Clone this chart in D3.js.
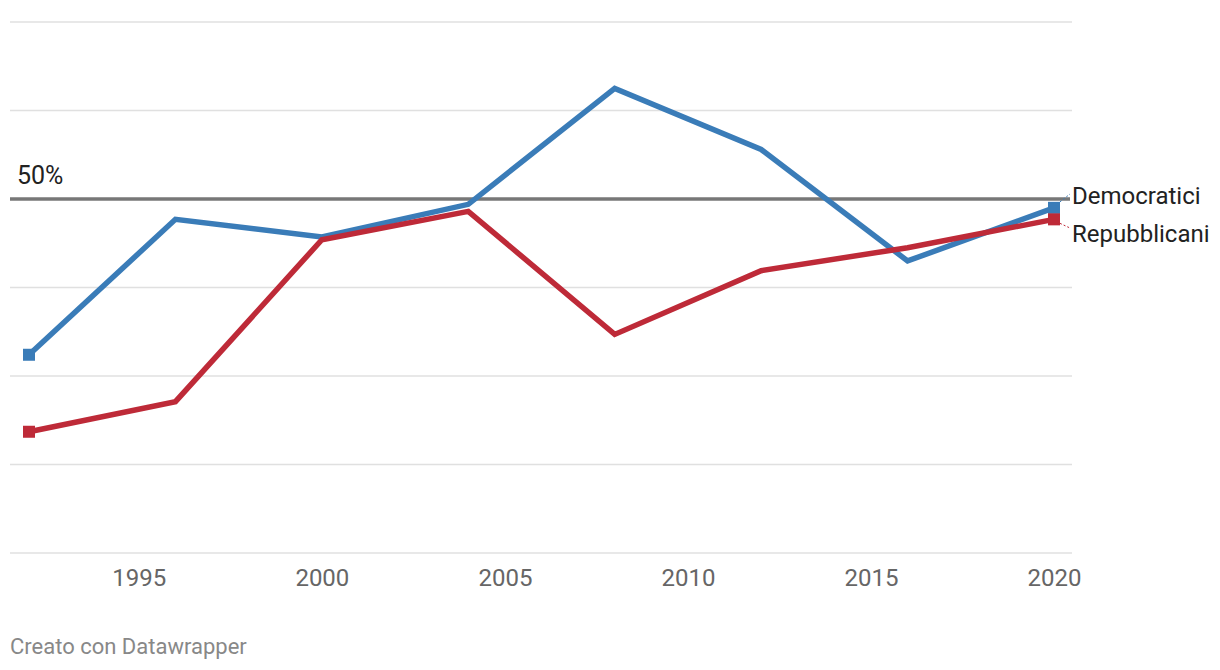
<!DOCTYPE html>
<html lang="it">
<head>
  <meta charset="utf-8" />
  <title>Democratici e Repubblicani</title>
  <style>
    body { margin: 0; background: #fff; font-family: Roboto, "Noto Sans", sans-serif; }
    svg text { font-family: Roboto, "Noto Sans", sans-serif; }
  </style>
  <script src="https://d3js.org/d3.v7.min.js"></script>
</head>
<body>
<script>
// data (percent)
const years = [1992, 1996, 2000, 2004, 2008, 2012, 2016, 2020];
const democratici  = [32.4, 47.7, 45.7, 49.4, 62.5, 55.6, 43.0, 49.0];
const repubblicani = [23.7, 27.1, 45.4, 48.6, 34.7, 41.9, 44.5, 47.7];
const xTicks = [1995, 2000, 2005, 2010, 2015, 2020];
const gridValues = [10, 20, 30, 40, 60, 70];
const seriesNames = ["Democratici", "Repubblicani"];

const W = 1220, H = 670;
const svg = d3.select("body").append("svg")
  .attr("width", W).attr("height", H);

// scales
const x = d3.scaleLinear().domain([1992, 2020]).range([29, 1054]);
const y = d3.scaleLinear().domain([10, 70]).range([553, 22]);

// gridlines
svg.append("g").selectAll("line")
  .data(gridValues)
  .join("line")
    .attr("x1", 10).attr("x2", 1072)
    .attr("y1", d => y(d)).attr("y2", d => y(d))
    .attr("stroke", "#e0e0e0").attr("stroke-width", 1.5);

// 50% reference line
svg.append("line")
  .attr("x1", 10).attr("x2", 1070)
  .attr("y1", y(50)).attr("y2", y(50))
  .attr("stroke", "#777").attr("stroke-width", 3.5);
svg.append("text")
  .attr("x", 17).attr("y", y(50) - 15)
  .attr("font-size", 25).attr("fill", "#222")
  .text("50%");

// x axis labels
const xAxis = d3.axisBottom(x).tickValues(xTicks).tickFormat(d3.format("d")).tickSize(0).tickPadding(16);
const gx = svg.append("g").attr("transform", `translate(0, ${y(10)})`).call(xAxis);
gx.select(".domain").remove();
gx.selectAll("text").attr("font-size", 24).attr("fill", "#666");

// lines
const series = [
  { name: seriesNames[0], values: democratici,  color: "#3a7cb8" },
  { name: seriesNames[1], values: repubblicani, color: "#be2a38" }
];
const line = d3.line()
  .x((d, i) => x(years[i]))
  .y(d => y(d))
  .curve(d3.curveLinear);

series.forEach(s => {
  svg.append("path")
    .datum(s.values)
    .attr("d", line)
    .attr("fill", "none")
    .attr("stroke", s.color)
    .attr("stroke-width", 5.5)
    .attr("stroke-linejoin", "miter");

  // square markers on the end points
  const ends = [0, s.values.length - 1];
  svg.append("g").selectAll("rect")
    .data(ends)
    .join("rect")
      .attr("x", i => x(years[i]) - 6)
      .attr("y", i => y(s.values[i]) - 6)
      .attr("width", 12).attr("height", 12)
      .attr("fill", s.color);
});

// direct labels with small connectors
const labelY = [198, 236];
series.forEach((s, k) => {
  const last = s.values.length - 1;
  const px = x(years[last]) + 6, py = y(s.values[last]);
  svg.append("line")
    .attr("x1", px).attr("y1", py + (k === 0 ? -6 : 4))
    .attr("x2", 1070).attr("y2", labelY[k] + (k === 0 ? -4 : -8))
    .attr("stroke", s.color).attr("stroke-width", 1)
    .attr("stroke-dasharray", "2,2");
  svg.append("text")
    .attr("x", 1072).attr("y", labelY[k])
    .attr("dominant-baseline", "middle")
    .attr("font-size", 24).attr("fill", "#222")
    .text(s.name);
});

// footer
svg.append("text")
  .attr("x", 10).attr("y", 654)
  .attr("font-size", 22).attr("fill", "#888")
  .text("Creato con Datawrapper");
</script>
</body>
</html>
